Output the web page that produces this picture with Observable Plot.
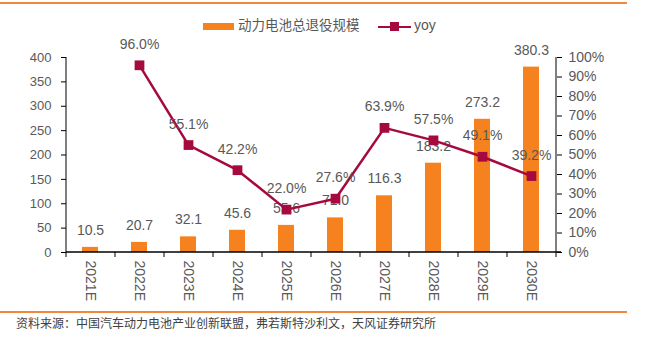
<!DOCTYPE html>
<html>
<head>
<meta charset="utf-8">
<script src="https://cdn.jsdelivr.net/npm/d3@7"></script>
<script src="https://cdn.jsdelivr.net/npm/@observablehq/plot@0.6"></script>
<style>
  body { margin: 0; background: #fff; }
  #wrap { position: relative; width: 649px; height: 338px; overflow: hidden;
          font-family: "Liberation Sans", "Noto Sans CJK SC", sans-serif; color: #595959; }
  .hline { position: absolute; left: 0; width: 627px; height: 1.5px; background: #F0893A; }
  #chart { position: absolute; left: 0; top: 0; }
  #legend { position: absolute; left: 0; top: 0; width: 649px; height: 40px; }
  .lg { position: absolute; white-space: nowrap; line-height: 1; }
  #source { position: absolute; left: 16px; top: 314px; font-size: 12px; color: #404040;
            font-family: "Noto Sans CJK SC", sans-serif; white-space: nowrap; }
</style>
</head>
<body>
<div id="wrap">
  <div class="hline" style="top:2px"></div>
  <div id="chart"></div>
  <div id="legend">
    <div class="lg" style="left:203px;top:23px;width:31px;height:7px;background:#F5821F"></div>
    <div class="lg" id="lg1" style="left:238px;top:18px;font-size:13.5px;font-family:'Noto Sans CJK SC',sans-serif;color:#595959"></div>
    <div class="lg" style="left:378px;top:25.5px;width:33px;height:2.5px;background:#A6093D"></div>
    <div class="lg" style="left:390px;top:22px;width:9px;height:9px;background:#A6093D"></div>
    <div class="lg" id="lg2" style="left:414px;top:18px;font-size:14px;color:#595959"></div>
  </div>
  <div class="hline" style="top:311px"></div>
  <div id="source"></div>
</div>
<script>
// ---- data ----
const years = ["2021E","2022E","2023E","2024E","2025E","2026E","2027E","2028E","2029E","2030E"];
const retired = [10.5, 20.7, 32.1, 45.6, 55.6, 71.0, 116.3, 183.2, 273.2, 380.3];
const yoy = [null, 96.0, 55.1, 42.2, 22.0, 27.6, 63.9, 57.5, 49.1, 39.2];
const leftTicks = [0, 50, 100, 150, 200, 250, 300, 350, 400];
const rightTicks = [0, 10, 20, 30, 40, 50, 60, 70, 80, 90, 100];
const seriesNames = ["动力电池总退役规模", "yoy"];
const sourceText = "资料来源：中国汽车动力电池产业创新联盟，弗若斯特沙利文，天风证券研究所";

const ORANGE = "#F5821F", RED = "#A6093D", GREY = "#595959";
const K = 4; // 100% on right axis ↔ 400 on left axis

document.getElementById("lg1").textContent = seriesNames[0];
document.getElementById("lg2").textContent = seriesNames[1];
document.getElementById("source").textContent = sourceText;

const data = years.map((y, i) => ({year: y, value: retired[i], yoy: yoy[i]}));
const yoyData = data.filter(d => d.yoy != null);

const chart = Plot.plot({
  width: 649, height: 310,
  marginLeft: 66, marginRight: 93, marginTop: 57, marginBottom: 58,
  style: {fontFamily: "Liberation Sans, Noto Sans CJK SC, sans-serif", fontSize: "14px", color: GREY, background: "transparent", overflow: "visible"},
  x: {domain: years, paddingInner: 0.67, paddingOuter: 0.335},
  y: {domain: [0, 400]},
  marks: [
    Plot.barY(data, {x: "year", y: "value", fill: ORANGE}),
    Plot.text(data, {x: "year", y: "value", text: d => d.value.toFixed(1), dy: -17, fontSize: 14, fill: GREY}),
    Plot.line(yoyData, {x: "year", y: d => d.yoy * K, stroke: RED, strokeWidth: 2.5}),
    Plot.dot(yoyData, {x: "year", y: d => d.yoy * K, symbol: "square", r: 5.5, fill: RED, stroke: "none"}),
    Plot.text(yoyData, {x: "year", y: d => d.yoy * K, text: d => d.yoy.toFixed(1) + "%", dy: -21, fontSize: 14, fill: GREY}),
    Plot.axisY({anchor: "left", ticks: leftTicks, tickSize: 5, tickPadding: 10, stroke: "#000", fill: GREY, fontSize: 13, label: null}),
    Plot.axisY({anchor: "right", ticks: rightTicks.map(v => v * K), tickFormat: v => Math.round(v / K) + "%", tickSize: 5, tickPadding: 7, stroke: "#000", fill: GREY, fontSize: 14, label: null}),
    Plot.axisX({tickRotate: 90, tickSize: 0, tickPadding: 8, fill: GREY, fontSize: 14, label: null})
  ]
});
document.getElementById("chart").appendChild(chart);

// axis lines and category boundary ticks, from the plot's own scales
const xs = chart.scale("x"), ys = chart.scale("y");
const [x0, x1] = xs.range;
const [yb, yt] = ys.range;
const g = d3.select(chart).append("g").attr("stroke", "#000").attr("stroke-width", 1);
g.append("line").attr("x1", x0).attr("x2", x0).attr("y1", yt).attr("y2", yb);
g.append("line").attr("x1", x1).attr("x2", x1).attr("y1", yt).attr("y2", yb);
g.append("line").attr("x1", x0).attr("x2", x1 + 5).attr("y1", yb).attr("y2", yb).attr("stroke-width", 1.3);
d3.range(years.length + 1).forEach(i => {
  const x = x0 + i * xs.step;
  g.append("line").attr("x1", x).attr("x2", x).attr("y1", yb).attr("y2", yb + 5);
});
</script>
</body>
</html>
